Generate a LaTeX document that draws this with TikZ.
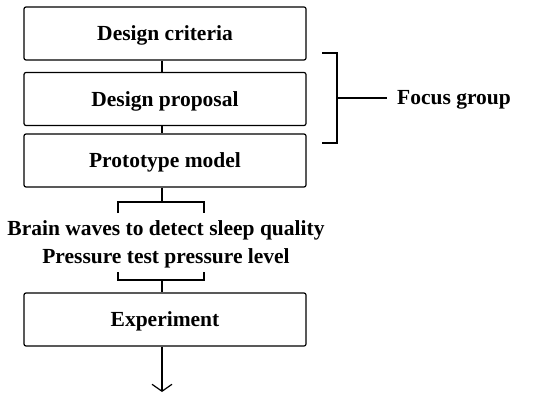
\documentclass[tikz,border=0pt]{standalone}
\usepackage{fontspec}
\setmainfont{Liberation Serif}
\usetikzlibrary{arrows.meta,positioning}

\begin{document}
\begin{tikzpicture}[
    x=1pt, y=-1pt,
    etape/.style={
        draw,
        rounded corners=2pt,
        line width=1.2pt,
        minimum width=282pt,
        minimum height=53pt,
        inner sep=0pt,
        text depth=0pt,
        font=\fontsize{21.5}{24}\selectfont\bfseries
    },
    texte/.style={
        inner sep=0pt,
        anchor=base,
        font=\fontsize{21.5}{24}\selectfont\bfseries
    },
    trait/.style={
        line width=1.2pt
    },
    fleche/.style={
        -{Straight Barb[length=7pt,width=20pt,line width=1.2pt]},
        line width=1.2pt
    }
]
\useasboundingbox (0,0) rectangle (554,393);

% Steps
\node[etape] (crit) at (165,33.5) {Design criteria};
\node[etape] (prop) at (165,99) {Design proposal};
\node[etape] (proto) at (165,160.5) {Prototype model};
\node[etape] (exp) at (165,319.5) {Experiment};

% Measurements
\node[texte] (brain) at (166,235) {Brain waves to detect sleep quality};
\node[texte] (press) at (166,263) {Pressure test pressure level};

% Links between steps
\coordinate (hb) at (162,202);
\draw[trait] (crit.south -| hb) -- (prop.north -| hb);
\draw[trait] (prop.south -| hb) -- (proto.north -| hb);

% Upper bracket
\draw[trait] (proto.south -| hb) -- (hb);
\draw[trait] (118,213) -- (118,202) -- (204,202) -- (204,213);

% Lower bracket
\coordinate (bb) at (162,280);
\draw[trait] (118,272) -- (118,280) -- (204,280) -- (204,272);
\draw[trait] (bb) -- (exp.north -| bb);

% Output arrow
\coordinate (fin) at (162,392);
\draw[fleche] (exp.south -| fin) -- (fin);

% Focus group bracket
\node[texte, anchor=base west] (focus) at (397,105) {Focus group};
\coordinate (acc) at (337,98);
\draw[trait] (322,53) -- (337,53) -- (337,143) -- (322,143);
\draw[trait] (acc) -- (387,98);

\end{tikzpicture}
\end{document}
